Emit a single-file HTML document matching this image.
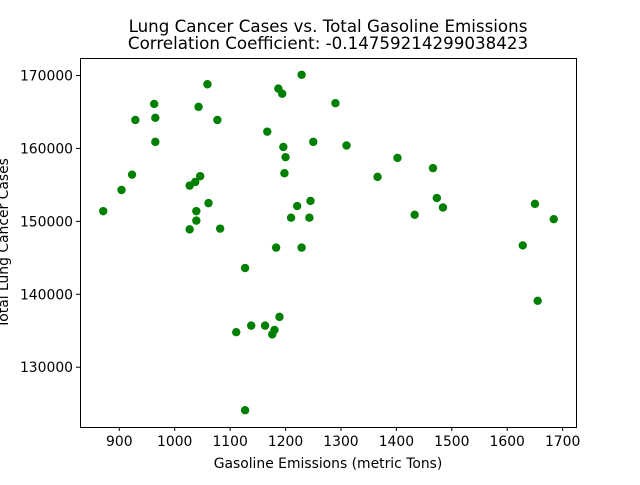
<!DOCTYPE html>
<html><head><meta charset="utf-8"><style>
body{margin:0;background:#fff}
text{font-family:"DejaVu Sans","Liberation Sans",sans-serif;fill:#000}
</style></head><body>
<svg id="chart" width="640" height="480">
<rect width="640" height="480" fill="#fff"/>
<text x="328" y="32" font-size="16.7" text-anchor="middle">Lung Cancer Cases vs. Total Gasoline Emissions</text>
<text x="328" y="49" font-size="16.7" text-anchor="middle">Correlation Coefficient: -0.14759214299038423</text>
<g id="ticks"></g>
<g id="points"></g>
<rect x="80.5" y="58.5" width="496" height="369" fill="none" stroke="#000" stroke-width="1"/>
<text x="328" y="468" font-size="13.9" text-anchor="middle">Gasoline Emissions (metric Tons)</text>
<text transform="translate(8,243) rotate(-90)" font-size="13.9" text-anchor="middle">Total Lung Cancer Cases</text>
</svg>
<script>
const emissions=[871,904,923,929,963,965,965,1027,1027,1037,1039,1039,1043,1046,1059,1061,1077,1082,1111,1127,1127,1138,1163,1167,1176,1180,1183,1187,1189,1194,1196,1198,1200,1210,1221,1229,1229,1243,1245,1250,1290,1310,1366,1402,1433,1466,1473,1484,1628,1650,1655,1684];
const cases=[151400,154300,156400,163900,166100,164200,160900,154900,148900,155400,150100,151400,165700,156200,168800,152500,163900,149000,134800,124100,143600,135700,135700,162300,134500,135100,146400,168200,136900,167500,160200,156600,158800,150500,152100,170100,146400,150500,152800,160900,166200,160400,156100,158700,150900,157300,153200,151900,146700,152400,139100,150300];
const xTicks=[900,1000,1100,1200,1300,1400,1500,1600,1700];
const yTicks=[130000,140000,150000,160000,170000];
const NS='http://www.w3.org/2000/svg';
const X0=830,X1=1725,Y0=121800,Y1=172400;
function xs(v){return 80.5+(v-X0)/(X1-X0)*496;}
function ys(v){return 427-(v-Y0)/(Y1-Y0)*369;}
const tg=document.getElementById('ticks'),pg=document.getElementById('points');
function mk(tag,attrs,parent){const e=document.createElementNS(NS,tag);for(const k in attrs)e.setAttribute(k,attrs[k]);parent.appendChild(e);return e;}
xTicks.forEach(v=>{const x=xs(v);
const l=mk('line',{x1:x,x2:x,y1:427,y2:431,stroke:'#000'},tg);


const t=mk('text',{x:x,y:446,'font-size':13.9,'text-anchor':'middle'},tg);t.textContent=v;

});
yTicks.forEach(v=>{const y=ys(v);
const l=mk('line',{x1:76,x2:80,y1:y,y2:y,stroke:'#000'},tg);


const t=mk('text',{x:73,y:y+5,'font-size':13.9,'text-anchor':'end'},tg);t.textContent=v;

});
emissions.forEach((v,i)=>{const c=mk('circle',{cx:xs(v),cy:ys(cases[i]),r:4.2,fill:'#008000'},pg);

});
</script>
</body></html>
